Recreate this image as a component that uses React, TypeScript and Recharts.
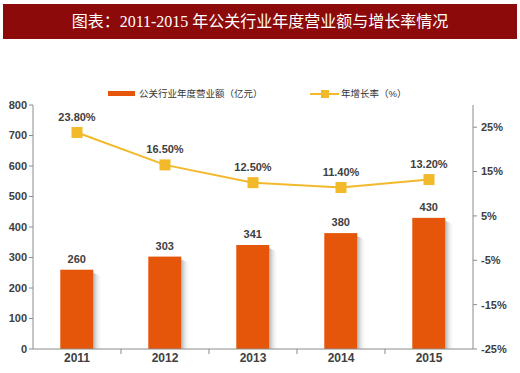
import React from "react";
import {
  Bar,
  ComposedChart,
  LabelList,
  Line,
  XAxis,
  YAxis,
} from "recharts";

const years = ["2011", "2012", "2013", "2014", "2015"];
const revenue = [260, 303, 341, 380, 430];
const growth = [23.8, 16.5, 12.5, 11.4, 13.2];
const leftTicks = [0, 100, 200, 300, 400, 500, 600, 700, 800];
const rightTicks = [-25, -15, -5, 5, 15, 25];

const BAR_COLOR = "#E6560A";
const LINE_COLOR = "#F2B92A";
const AXIS_COLOR = "#8c8c8c";
const TEXT_COLOR = "#404040";
const FONT = "Arial, 'Liberation Sans', 'Noto Sans CJK SC', sans-serif";

const data = years.map((year, i) => ({
  year,
  revenue: revenue[i],
  growth: growth[i],
}));

// bar with a soft grey shadow on its right side
function ShadowBar(props: any) {
  const { x, y, width, height } = props;
  if (height <= 0) return null;
  const r = x + width;
  return (
    <g>
      <polygon
        points={`${r},${y + 3} ${r + 9},${y + 7} ${r + 9},${y + height} ${r},${y + height}`}
        fill="url(#barShadow)"
      />
      <rect x={x} y={y} width={width} height={height} fill={BAR_COLOR} />
    </g>
  );
}

function SquareDot(props: any) {
  const { cx, cy } = props;
  if (cx == null || cy == null) return null;
  return <rect x={cx - 5.5} y={cy - 5.5} width={11} height={11} fill={LINE_COLOR} />;
}

// category label plus a tick mark on the boundary between categories
function YearTick(props: any) {
  const { x, y, payload, index, width, visibleTicksCount } = props;
  const half = width / visibleTicksCount / 2;
  const axisY = y - 4;
  return (
    <g>
      {index < visibleTicksCount - 1 && (
        <line x1={x + half} x2={x + half} y1={axisY} y2={axisY + 5} stroke={AXIS_COLOR} />
      )}
      <text
        x={x}
        y={y}
        dy="0.71em"
        textAnchor="middle"
        fill={TEXT_COLOR}
        fontSize={12}
        fontWeight="bold"
        fontFamily={FONT}
      >
        {payload.value}
      </text>
    </g>
  );
}

const tickStyle = { fill: TEXT_COLOR, fontSize: 11, fontWeight: "bold", fontFamily: FONT };

export default function App() {
  return (
    <div
      style={{
        position: "absolute",
        left: 0,
        top: 0,
        width: 520,
        height: 373,
        background: "#fff",
        fontFamily: FONT,
      }}
    >
      <div
        style={{
          position: "absolute",
          left: 3,
          top: 4,
          width: 514,
          height: 35,
          background: "#8C0A0A",
          color: "#fff",
          fontSize: 16,
          lineHeight: "35px",
          textAlign: "center",
          fontFamily: "'Liberation Serif', 'Noto Sans CJK SC', serif",
        }}
      >
        图表：2011-2015 年公关行业年度营业额与增长率情况
      </div>

      <div
        style={{
          position: "absolute",
          top: 86,
          left: 0,
          width: 520,
          height: 16,
          fontSize: 9.5,
          color: "#333",
          fontFamily: FONT,
        }}
      >
        <div style={{ position: "absolute", left: 108, top: 5, width: 27, height: 5, background: BAR_COLOR }} />
        <div style={{ position: "absolute", left: 139, top: 0, lineHeight: "15px" }}>
          公关行业年度营业额（亿元）
        </div>
        <div style={{ position: "absolute", left: 310, top: 7, width: 29, height: 2, background: LINE_COLOR }} />
        <div style={{ position: "absolute", left: 321, top: 4, width: 8, height: 8, background: LINE_COLOR }} />
        <div style={{ position: "absolute", left: 341, top: 0, lineHeight: "15px" }}>年增长率（%）</div>
      </div>

      <ComposedChart
        width={520}
        height={373}
        data={data}
        margin={{ top: 105, right: 0, bottom: 0, left: 0 }}
        barCategoryGap="31%"
      >
        <defs>
          <linearGradient id="barShadow" x1="0" y1="0" x2="1" y2="0">
            <stop offset="0%" stopColor="#b5b5b5" />
            <stop offset="100%" stopColor="#ffffff" stopOpacity={0} />
          </linearGradient>
        </defs>
        <XAxis
          dataKey="year"
          height={24}
          tickLine={false}
          tickSize={0}
          tickMargin={4}
          axisLine={{ stroke: AXIS_COLOR }}
          tick={<YearTick />}
          interval={0}
        />
        <YAxis
          yAxisId="left"
          width={33}
          domain={[0, 800]}
          ticks={leftTicks}
          tickSize={4}
          tickMargin={2}
          axisLine={{ stroke: AXIS_COLOR }}
          tickLine={{ stroke: AXIS_COLOR }}
          tick={tickStyle}
        />
        <YAxis
          yAxisId="right"
          orientation="right"
          width={47}
          domain={[-25, 30]}
          ticks={rightTicks}
          tickFormatter={(v: number) => `${v}%`}
          tickSize={4}
          tickMargin={4}
          axisLine={{ stroke: AXIS_COLOR }}
          tickLine={{ stroke: AXIS_COLOR }}
          tick={tickStyle}
        />
        <Bar
          yAxisId="left"
          dataKey="revenue"
          shape={<ShadowBar />}
          isAnimationActive={false}
        >
          <LabelList
            dataKey="revenue"
            position="top"
            offset={7}
            fill={TEXT_COLOR}
            fontSize={11}
            fontWeight="bold"
            fontFamily={FONT}
          />
        </Bar>
        <Line
          yAxisId="right"
          dataKey="growth"
          stroke={LINE_COLOR}
          strokeWidth={2}
          dot={<SquareDot />}
          activeDot={false}
          isAnimationActive={false}
        >
          <LabelList
            dataKey="growth"
            position="top"
            offset={12}
            formatter={(v: any) => `${Number(v).toFixed(2)}%`}
            fill={TEXT_COLOR}
            fontSize={11}
            fontWeight="bold"
            fontFamily={FONT}
          />
        </Line>
      </ComposedChart>
    </div>
  );
}
